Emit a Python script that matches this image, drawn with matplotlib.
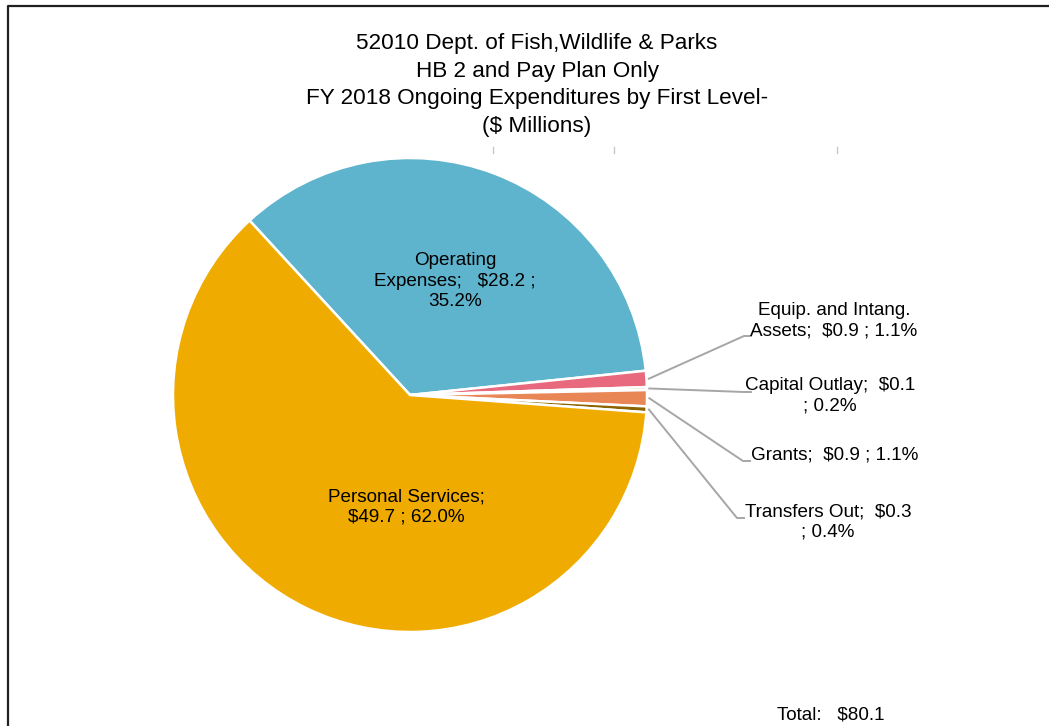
import numpy as np
import matplotlib
matplotlib.use("Agg")
from matplotlib import pyplot as plt

plt.rcParams['font.family'] = ['Liberation Sans', 'DejaVu Sans']

# data, in the order the slices are drawn (clockwise)
categories = ["Operating\nExpenses", "Equip. and Intang.\nAssets", "Capital Outlay",
              "Grants", "Transfers Out", "Personal Services"]
amounts = [28.2, 0.9, 0.1, 0.9, 0.3, 49.7]
shares = [35.2, 1.1, 0.2, 1.1, 0.4, 62.0]
colors = ["#5EB3CD", "#E8697D", "#F2C9A0", "#E88655", "#8B6400", "#F0AB00"]
total = 80.1

label_texts = [
    "Operating\nExpenses;   $28.2 ;\n35.2%",
    "Equip. and Intang.\nAssets;  $0.9 ; 1.1%",
    "Capital Outlay;  $0.1\n; 0.2%",
    "Grants;  $0.9 ; 1.1%",
    "Transfers Out;  $0.3\n; 0.4%",
    "Personal Services;\n$49.7 ; 62.0%",
]

W, H = 1049, 726
fig = plt.figure(figsize=(W / 100, H / 100), dpi=100)

# pie centre and radius in pixels
cx, cy, R = 410, 395, 237
ax = fig.add_axes([(cx - R) / W, (H - cy - R) / H, 2 * R / W, 2 * R / H])


def px(x, y):
    # pixel position -> data units of the pie axes
    return (x - cx) / R, (cy - y) / R


wedges, _ = ax.pie(shares, colors=colors, startangle=132.6, counterclock=False,
                   radius=1, wedgeprops=dict(edgecolor="white", linewidth=1.8))
ax.set_xlim(-1, 1)
ax.set_ylim(-1, 1)
ax.axis("off")

fs = 13.6
ls = 1.27
# labels inside the two big slices
ax.text(*px(455, 281), label_texts[0], ha="center", va="center", fontsize=fs, linespacing=ls)
ax.text(*px(406, 507), label_texts[5], ha="center", va="center", fontsize=fs, linespacing=ls)

# small slices get leader lines to the right
elbows = [(744, 336), (744, 392), (743, 461), (737, 518)]
text_pos = [(834, 321), (830, 396), (835, 455), (828, 522)]
for i, (el, tp) in enumerate(zip(elbows, text_pos)):
    w = wedges[i + 1]
    mid = np.deg2rad((w.theta1 + w.theta2) / 2)
    x0, y0 = np.cos(mid) * 1.01, np.sin(mid) * 1.01
    x1, y1 = px(*el)
    x2, _ = px(el[0] + 7, el[1])
    ax.plot([x0, x1, x2], [y0, y1, y1], color="#A6A6A6", lw=1.4, clip_on=False)
    ax.text(*px(*tp), label_texts[i + 1], ha="center", va="center", fontsize=fs,
            linespacing=ls)

# title
fig.text(537 / W, 1 - 85 / H,
         "52010 Dept. of Fish,Wildlife & Parks\nHB 2 and Pay Plan Only\n"
         "FY 2018 Ongoing Expenditures by First Level-\n($ Millions)",
         ha="center", va="center", fontsize=16.2, linespacing=1.41)

fig.text(831 / W, 1 - 715 / H, "Total:   $" + str(total), ha="center", va="center",
         fontsize=fs)

# faint tick marks under the title
for x in [493, 614, 837]:
    fig.add_artist(plt.Line2D([x / W, x / W], [1 - 147 / H, 1 - 153 / H],
                              color="#C8C8C8", lw=1))

# chart area border (top and left only visible)
fig.add_artist(plt.Line2D([8 / W, 8 / W, 1], [0, 1 - 6 / H, 1 - 6 / H],
                          color="#202020", lw=1.6))

plt.savefig("out.png", dpi=100)
